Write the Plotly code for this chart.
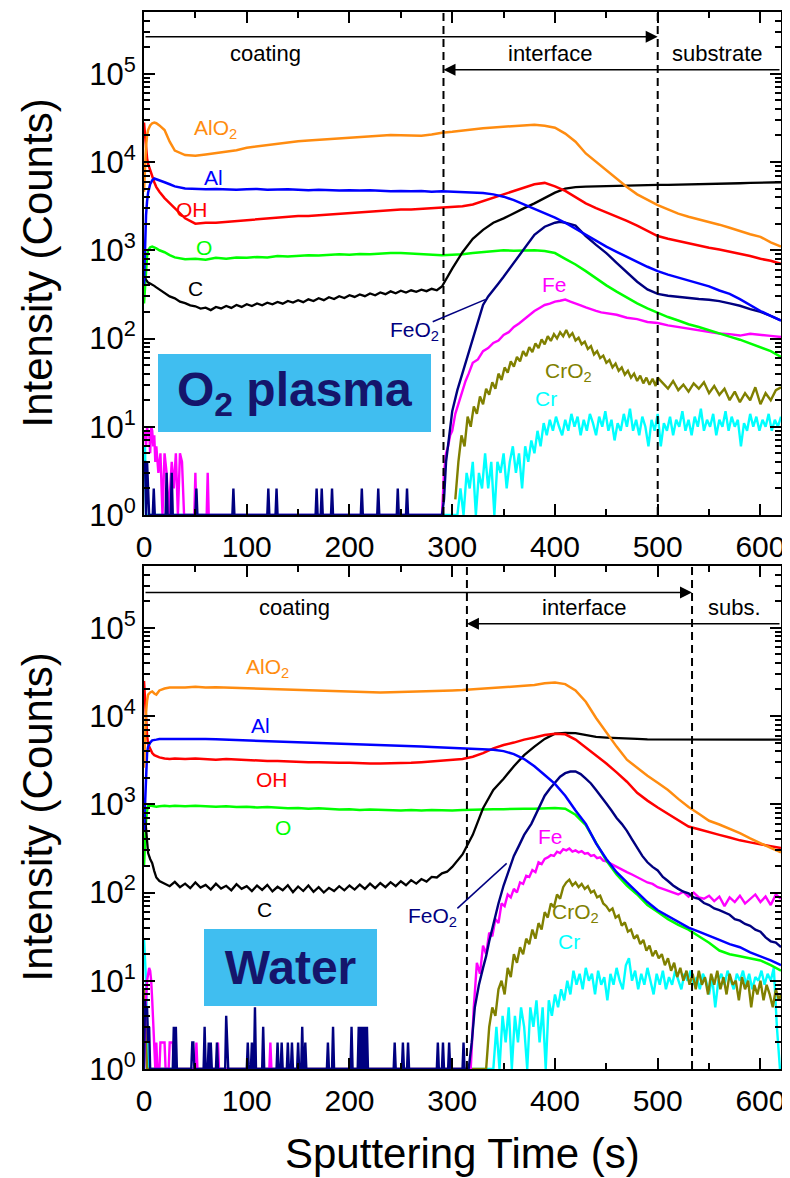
import plotly.graph_objects as go

# ---------------- shared time grid for the smooth, high-count species ----------------
T_GRID = [0, 1, 2, 3, 4, 6, 8, 10, 12, 15, 20, 25] + list(range(30, 621, 10))

# ================= TOP PANEL : O2 plasma =================
TOP_ALO2 = [4600, 9000, 15000, 20000, 23000, 26000, 27500, 28000, 27500, 26000, 23000, 17000,
            13500, 12000, 11800, 12200, 12600, 13000, 13600, 14500, 15000, 15800,
            16200, 16800, 17200, 17500, 17800, 18200, 18600, 19000, 19400, 19700,
            20000, 20300, 20100, 20000, 19800, 20500, 21500, 22000, 22800, 23500,
            24200, 24600, 25000, 25500, 26000, 26500, 25800, 24500, 21000, 17000,
            12500, 10000, 8100, 6400, 5200, 4300, 3700, 3250, 2900, 2600,
            2400, 2250, 2100, 1950, 1800, 1650, 1520, 1420, 1230, 1100]
TOP_AL = [400, 1200, 2500, 3600, 4500, 5600, 6200, 6500, 6400, 6200, 5900, 5600,
          5300, 5000, 4950, 4900, 4950, 4900, 4850, 4900, 4950, 4850,
          4900, 4900, 4850, 4800, 4850, 4800, 4750, 4800, 4750, 4800,
          4700, 4650, 4700, 4650, 4700, 4600, 4650, 4600, 4550, 4550,
          4450, 4300, 4050, 3700, 3300, 2950, 2600, 2350, 2050, 1750,
          1500, 1280, 1100, 960, 850, 740, 650, 580, 530, 490,
          450, 420, 390, 350, 320, 280, 240, 205, 180, 160]
TOP_OH = [28000, 20000, 14000, 11000, 9500, 8000, 6800, 5900, 5200, 4600, 3900, 3400,
          3000, 2300, 2000, 2050, 2050, 2100, 2150, 2200, 2250, 2300,
          2350, 2400, 2450, 2450, 2500, 2550, 2600, 2650, 2700, 2750,
          2800, 2850, 2900, 2900, 2950, 2950, 3000, 3050, 3150, 3300,
          3600, 3950, 4300, 4700, 5100, 5600, 5800, 5300, 4700, 4000,
          3400, 3000, 2700, 2400, 2150, 1900, 1650, 1450, 1350, 1270,
          1200, 1130, 1070, 1020, 970, 920, 860, 800, 760, 700]
TOP_O = [250, 400, 650, 850, 1000, 1080, 1100, 1080, 1050, 1000, 950, 880,
         830, 790, 800, 780, 820, 800, 830, 820, 840, 830,
         860, 850, 870, 880, 870, 890, 900, 890, 910, 900,
         920, 930, 930, 920, 900, 890, 880, 890, 900, 930,
         950, 980, 1000, 990, 1000, 1000, 980, 930, 800, 690,
         580, 480, 400, 340, 290, 250, 220, 195, 175, 160,
         145, 135, 125, 115, 105, 97, 88, 80, 72, 62]
TOP_C_T = [0, 1, 2, 3, 4, 6, 8, 10, 12, 15, 20, 25] + list(range(30, 291, 5)) + list(range(300, 621, 10))
TOP_C = [500, 480, 460, 440, 430, 420, 410, 395, 380, 360, 330, 300,
         285, 262, 252, 238, 232, 218, 224, 210, 228, 219,
         234, 222, 240, 228, 245, 233, 250, 238, 255, 244,
         260, 248, 266, 255, 272, 258, 278, 266, 286, 272,
         294, 280, 302, 288, 310, 296, 316, 302, 324, 309,
         332, 318, 342, 326, 348, 332, 352, 338, 358, 344,
         366, 352, 388,
         620, 950, 1350, 1700, 2050, 2300, 2650, 3000, 3400, 3900, 4500,
         5000, 5200, 5250, 5300, 5300, 5350, 5350, 5400, 5450, 5500, 5500,
         5550, 5600, 5600, 5650, 5700, 5700, 5750, 5800, 5850, 5850, 5900]

TOP_FEO2_T = [0, 1, 2, 3, 4, 5,
              8.5, 9.5, 10.5, 21, 22, 23, 26, 27, 28,
              50, 51, 52, 86, 87, 88, 120, 121, 122, 128, 129, 130,
              167, 168, 169, 172, 173, 174, 182, 183, 184, 211, 212, 213,
              227, 228, 229, 246, 247, 248, 255, 256, 257,
              290, 292, 294, 297, 300,
              305, 310, 315, 320, 325, 330, 335, 340, 345, 350, 355, 360,
              370, 380, 390, 400, 405, 410,
              420, 430, 440, 450, 460, 470, 480, 490, 500, 510, 520,
              530, 540, 550, 560, 570, 580, 590, 600, 610, 620]
TOP_FEO2 = [4, 4, 1, 4, 2, 1,
            1, 2, 1, 1, 3, 1, 1, 3, 1,
            1, 2, 1, 1, 2, 1, 1, 2, 1, 1, 2, 1,
            1, 2, 1, 1, 2, 1, 1, 2, 1, 1, 2, 1,
            1, 2, 1, 1, 2, 1, 1, 2, 1,
            1, 1.5, 4, 8, 15,
            26, 41, 65, 100, 160, 240, 300, 350, 420, 500, 600, 720,
            1050, 1500, 1850, 2050, 2100, 2050,
            1900, 1450, 1150, 930, 720, 560, 440, 360, 320, 305, 295,
            290, 280, 275, 265, 250, 235, 215, 200, 180, 160]

TOP_FE_T = [0, 1, 2, 3, 4, 5, 6, 7, 8, 9, 10, 11, 12,
            14, 16, 18, 20, 22, 24,
            27, 29, 31, 33, 35, 37, 39,
            49, 50, 51, 61, 62, 63,
            290, 292, 294, 296, 298, 300,
            303, 306, 310, 313, 316] + list(range(320, 451, 5)) + list(range(460, 621, 10))
TOP_FE = [7, 9, 6, 10, 8, 9, 5, 10, 9, 6, 8, 4, 6,
          3, 5, 1, 5, 3, 1,
          4, 2, 5, 1, 5, 4, 1,
          1, 3, 1, 1, 3, 1,
          1, 3, 5, 6, 8, 9,
          14, 18, 26, 33, 40,
          53, 58, 72, 78, 89, 95, 110, 118, 135, 148, 165, 182, 205, 222,
          240, 248, 262, 268, 276, 262, 252, 238, 226, 214, 206, 198, 195,
          186, 172, 166, 154, 150, 141, 135, 128, 123, 118, 114, 112, 108, 113, 109, 107, 104]

TOP_CRO2_T = list(range(303, 499, 3)) + list(range(500, 621, 5))
TOP_CRO2 = [1.5, 4, 8, 6, 13, 10, 17, 14, 22, 18,
            27, 23, 32, 27, 40, 34, 47, 41, 55, 48,
            62, 55, 72, 63, 80, 70, 88, 78, 98, 86,
            106, 94, 112, 100, 118, 106, 125, 105, 115, 95,
            102, 86, 92, 76, 82, 66, 72, 60, 64, 53,
            57, 47, 52, 43, 47, 39, 43, 36, 40, 33,
            38, 31, 36, 30, 35, 29,
            36, 31, 27, 33, 26, 30, 25, 31, 27, 32, 24, 29, 23, 27, 20, 25, 19, 24, 20, 28,
            18, 24, 20, 26, 28]

TOP_CR_T = [0, 1, 2, 3] + list(range(305, 621, 3))
TOP_CR = [5, 6, 1, 1,
          1, 2, 1, 3, 2, 4, 1, 3, 2, 5,
          2, 4, 1, 4, 3, 5, 2, 4, 6, 3,
          5, 2, 6, 4, 7, 5,
          9, 6, 11, 8, 12, 9, 13, 10, 8, 12,
          9, 14, 10, 13, 8, 12, 9, 14, 11, 8,
          13, 10, 15, 9, 12, 7, 11, 9, 14, 10,
          16, 9, 12, 8, 13, 10, 6, 12, 9, 14,
          6, 11, 9, 13, 8, 12, 10, 15, 9, 12,
          8, 13, 10, 16, 9, 12, 10, 14, 8, 12,
          10, 15, 9, 13, 10, 12, 6, 11, 9, 14,
          10, 13, 9, 12, 10, 14, 9, 12, 10, 13]

# ================= BOTTOM PANEL : Water =================
BOT_ALO2 = [2600, 6000, 11000, 15000, 17500, 18500, 19000, 18000, 17500, 19500, 20500, 21000,
            21000, 21000, 21500, 21000, 21200, 21000, 21000, 20800, 20600, 20500,
            20200, 20000, 19800, 19700, 19500, 19300, 19000, 18800, 18700, 18600,
            18500, 18600, 18700, 18800, 18900, 19100, 19300, 19500, 19700, 20000,
            20400, 20800, 21200, 21600, 22000, 22500, 23500, 24000, 23000, 19500,
            14500, 9500, 6500, 4500, 3200, 2600, 2100, 1750, 1450, 1150,
            930, 780, 650, 590, 530, 470, 410, 360, 320, 285]
BOT_AL = [500, 1200, 2500, 3800, 4500, 5000, 5300, 5400, 5400, 5500, 5500, 5500,
          5500, 5500, 5600, 5500, 5450, 5400, 5400, 5350, 5300, 5250,
          5200, 5150, 5100, 5050, 5000, 4950, 4900, 4850, 4800, 4750,
          4700, 4650, 4600, 4550, 4500, 4450, 4400, 4350, 4300, 4250,
          4200, 4150, 4000, 3700, 3250, 2700, 2150, 1700, 1250, 850,
          600, 360, 240, 170, 130, 100, 78, 63, 54, 46,
          40, 36, 32, 29, 26, 24, 21, 19, 17, 15]
BOT_OH = [25000, 15000, 9000, 6000, 4800, 4200, 3800, 3600, 3500, 3400, 3300, 3250,
          3300, 3250, 3300, 3250, 3200, 3250, 3200, 3150, 3150, 3100,
          3100, 3050, 3050, 3000, 3000, 2950, 2950, 2950, 2900, 2900,
          2900, 2900, 2900, 2950, 3000, 3050, 3100, 3150, 3250, 3450,
          3800, 4300, 4700, 5000, 5400, 5700, 6100, 6300, 6200, 5400,
          4400, 3600, 2900, 2300, 1800, 1350, 1100, 920, 780, 650,
          560, 520, 480, 450, 420, 390, 370, 350, 335, 320]
BOT_O = [200, 400, 650, 850, 950, 970, 960, 950, 940, 950, 960, 950,
         960, 950, 960, 950, 940, 950, 930, 940, 920, 930,
         910, 900, 910, 890, 900, 880, 870, 880, 860, 870,
         860, 850, 850, 860, 850, 860, 850, 850, 860, 870,
         870, 880, 880, 890, 890, 890, 900, 910, 890, 760,
         580, 360, 230, 160, 120, 95, 72, 60, 50, 43,
         38, 32, 27, 22, 20, 19, 18, 17, 15, 13]
BOT_C_T = [0, 1, 2, 3, 4, 6, 8, 10, 12, 15] + list(range(20, 301, 5)) + list(range(310, 621, 10))
BOT_C = [1000, 700, 450, 320, 280, 240, 215, 175, 148, 135,
         127, 118, 132, 115, 126, 112, 130, 114, 122, 108,
         126, 111, 119, 106, 124, 110, 118, 104, 120, 107,
         122, 103, 116, 106, 121, 101, 117, 104, 120, 102,
         115, 100, 113, 104, 118, 106, 120, 108, 123, 110,
         126, 112, 128, 115, 131, 118, 134, 121, 138, 126,
         142, 133, 150, 148, 165, 172, 195,
         270, 450, 900, 1450, 1950, 2700, 3600, 4500, 5500, 6300,
         6450, 6400, 6100, 5800, 5700, 5600, 5550, 5500, 5450, 5450,
         5400, 5400, 5400, 5400, 5350, 5400, 5350, 5400, 5350, 5400, 5350, 5400]

BOT_FEO2_T = [0, 1, 2, 3, 4, 5, 6,
              28, 29, 30, 31, 32,
              46, 47, 48, 49,
              58, 59, 60,
              62, 63, 64, 65, 66,
              70, 71, 72,
              79, 80, 81, 82,
              100, 101, 102, 104, 105, 106,
              107, 108, 109,
              115, 116, 117,
              129, 130, 131, 133, 134, 135,
              139, 140, 141, 143, 144, 145,
              149, 150, 151,
              153, 154, 155, 156, 157, 158,
              178, 179, 180,
              183, 184, 185,
              201, 202, 203,
              208, 209, 210, 211, 212, 213, 214, 215, 216, 217, 218,
              243, 244, 245,
              251, 252, 253, 256, 257, 258,
              285, 286, 287, 290, 291, 292, 296, 297, 298,
              310, 311, 312,
              316, 319, 322, 326, 330, 333, 336, 340, 345, 350, 355, 360, 365, 370, 377,
              385, 390] + list(range(395, 621, 5))
BOT_FEO2 = [1, 6, 4, 5, 2, 3, 1,
            1, 3, 1, 3, 1,
            1, 2, 2, 1,
            1, 3, 1,
            1, 2, 1, 2, 1,
            1, 2, 1,
            1, 4, 2, 1,
            1, 2, 1, 1, 2, 1,
            1, 5, 1,
            1, 3, 1,
            1, 2, 1, 1, 2, 1,
            1, 2, 1, 1, 2, 1,
            1, 2, 1,
            1, 3, 1, 1, 2, 1,
            1, 2, 1,
            1, 3, 1,
            1, 3, 1,
            1, 3, 1, 3, 1, 3, 1, 3, 1, 3, 1,
            1, 2, 1,
            1, 2, 1, 1, 2, 1,
            1, 2, 1, 1, 2, 1, 1, 2, 1,
            1, 2, 1,
            1, 2, 5, 9, 14, 19, 28, 45, 75, 120, 178, 260, 340, 450, 600,
            950, 1250,
            1500, 1750, 2050, 2250, 2350, 2350, 2200, 1950, 1720, 1450,
            1200, 1020, 850, 700, 600, 500, 400, 320, 260, 220,
            195, 178, 150, 135, 120, 110, 102, 98, 88, 85,
            76, 72, 66, 63, 60, 56, 50, 48, 44, 42,
            38, 36, 31, 28, 27, 24]

BOT_FE_T = [0, 1, 2, 3, 4, 5, 6, 7, 8, 9, 10, 11, 12, 13,
            15, 16, 20, 21, 24, 25, 28, 29,
            50, 51, 52, 71, 72, 73, 122, 123, 124] + list(range(318, 451, 3)) + list(range(455, 621, 5))
BOT_FE = [1, 3, 6, 10, 13, 14, 13, 10, 6, 3, 2, 1, 2, 1,
          1, 2, 2, 1, 1, 2, 2, 1,
          1, 2, 1, 1, 2, 1, 1, 2, 1,
          1, 5, 16, 12, 25, 20, 35, 32, 50, 45,
          75, 70, 95, 88, 110, 100, 130, 125, 155, 150,
          180, 170, 220, 210, 240, 250, 265, 260, 290, 280,
          310, 300, 315, 290, 300, 285, 295, 275, 280, 260,
          265, 245, 250, 230, 225,
          210, 195, 180, 170, 160, 150, 140, 130, 125, 115,
          110, 105, 100, 95, 102, 90, 100, 88, 85, 92,
          80, 90, 70, 88, 78, 92, 75, 85, 95, 78,
          90, 72, 95, 85]

BOT_CRO2_T = [0, 1, 2, 3] + list(range(333, 619, 3)) + [620]
BOT_CRO2 = [8, 6, 2, 1,
            1, 3, 5, 4, 8, 10, 7, 14, 11, 20,
            16, 24, 20, 30, 26, 38, 30, 45, 38, 60,
            52, 75, 68, 95, 85, 115, 130, 140, 120, 130,
            115, 125, 110, 118, 100, 105, 88, 92, 75, 70,
            62, 66, 52, 55, 42, 46, 36, 38, 30, 33,
            26, 29, 22, 25, 19, 22, 18, 20, 15, 18,
            13, 16, 11, 14, 10, 13, 9, 12, 8, 13,
            9, 11, 7, 12, 9, 13, 8, 11, 7, 12,
            9, 10, 6, 11, 8, 10, 5, 9, 7, 10,
            6, 9, 7, 5, 8, 6,
            7]

BOT_CR_T = [0, 1, 2, 3, 4] + list(range(340, 620, 3))
BOT_CR = [30, 20, 10, 3, 1,
          1, 3, 1, 4, 2, 5, 1, 4, 2, 5,
          3, 1, 5, 3, 6, 2, 5, 1, 6, 4,
          7, 5, 8, 6, 10, 7, 13, 9, 12, 8,
          14, 10, 12, 7, 13, 9, 11, 6, 12, 9,
          14, 10, 8, 15, 18, 10, 13, 8, 12, 9,
          14, 10, 7, 12, 9, 13, 8, 11, 9, 13,
          10, 8, 12, 10, 13, 9, 11, 8, 12, 10,
          7, 11, 5, 10, 12, 9, 13, 10, 8, 12,
          10, 13, 9, 12, 8, 11, 10, 13, 9, 12,
          10, 14, 3, 1]

SPECIES = ["AlO2", "Al", "OH", "O", "C", "FeO2", "Fe", "CrO2", "Cr"]
COLORS = {"AlO2": "#FF8C10", "Al": "#0000FF", "OH": "#FF0000", "O": "#00FF00", "C": "#000000",
          "FeO2": "#000080", "Fe": "#FF00FF", "CrO2": "#808000", "Cr": "#00FFFF"}
LABELS = {"AlO2": "AlO<sub>2</sub>", "Al": "Al", "OH": "OH", "O": "O", "C": "C",
          "FeO2": "FeO<sub>2</sub>", "Fe": "Fe", "CrO2": "CrO<sub>2</sub>", "Cr": "Cr"}

TOP_DATA = {"AlO2": (T_GRID, TOP_ALO2), "Al": (T_GRID, TOP_AL), "OH": (T_GRID, TOP_OH),
            "O": (T_GRID, TOP_O), "C": (TOP_C_T, TOP_C), "FeO2": (TOP_FEO2_T, TOP_FEO2),
            "Fe": (TOP_FE_T, TOP_FE), "CrO2": (TOP_CRO2_T, TOP_CRO2), "Cr": (TOP_CR_T, TOP_CR)}
BOT_DATA = {"AlO2": (T_GRID, BOT_ALO2), "Al": (T_GRID, BOT_AL), "OH": (T_GRID, BOT_OH),
            "O": (T_GRID, BOT_O), "C": (BOT_C_T, BOT_C), "FeO2": (BOT_FEO2_T, BOT_FEO2),
            "Fe": (BOT_FE_T, BOT_FE), "CrO2": (BOT_CRO2_T, BOT_CRO2), "Cr": (BOT_CR_T, BOT_CR)}

# label positions (time, log10 intensity)
TOP_LABEL_POS = {"AlO2": (70, 4.37), "Al": (68, 3.82), "OH": (47, 3.46), "O": (58, 3.03),
                 "C": (50, 2.57), "FeO2": (263, 2.09), "Fe": (400, 2.61), "CrO2": (413, 1.62),
                 "Cr": (391, 1.315)}
BOT_LABEL_POS = {"AlO2": (120, 4.54), "Al": (113, 3.89), "OH": (125, 3.28), "O": (135, 2.74),
                 "C": (117, 1.81), "FeO2": (281, 1.72), "Fe": (396, 2.64), "CrO2": (420, 1.77),
                 "Cr": (414, 1.45)}
TOP_LEADER = ((281, 2.19), (332, 2.44))
BOT_LEADER = ((305, 1.82), (353, 2.33))

# region markers (boundary times)
TOP_BOUNDS = (291.5, 500)
BOT_BOUNDS = (314.3, 533.4)
TOP_REGIONS = [("coating", 118), ("interface", 395.5), ("substrate", 558)]
BOT_REGIONS = [("coating", 146), ("interface", 428), ("subs.", 575)]

for dct in (TOP_DATA, BOT_DATA):
    for k, (xs, ys) in dct.items():
        assert len(xs) == len(ys), (k, len(xs), len(ys))

FONT = "Liberation Sans, Arial, sans-serif"
fig = go.Figure()

DRAW_ORDER = ["Cr", "CrO2", "Fe", "O", "FeO2", "C", "OH", "Al", "AlO2"]
WIDTH = {"Cr": 2.4, "CrO2": 2.4, "Fe": 2.4, "FeO2": 2.4, "C": 2.3}
for data, xa, ya in ((TOP_DATA, "x", "y"), (BOT_DATA, "x2", "y2")):
    for sp in DRAW_ORDER:
        xs, ys = data[sp]
        fig.add_trace(go.Scatter(x=xs, y=ys, mode="lines", name=sp, showlegend=False,
                                 line=dict(color=COLORS[sp], width=WIDTH.get(sp, 2.5)),
                                 xaxis=xa, yaxis=ya, hoverinfo="skip"))

# the page body adds an 8 px offset, so the figure is drawn 8 px smaller in each direction
OFF = 8
W, H = 790 - OFF, 1178 - OFF
def px_x(v):
    return (v - OFF) / W
def px_y(v):
    return (H - (v - OFF)) / H

XDOM = [px_x(144), px_x(781)]
TOP_DOM = [px_y(515), px_y(12)]
BOT_DOM = [px_y(1069), px_y(566)]
YMAX = 5.70

major_y = [10 ** k for k in range(0, 6)]
major_txt = ["10<sup>%d</sup>" % k for k in range(0, 6)]
minor_y = [m * 10 ** k for k in range(0, 6) for m in range(2, 10) if m * 10 ** k < 10 ** YMAX]

def xax(anchor):
    return dict(domain=XDOM, anchor=anchor, range=[0, 620], tick0=0, dtick=100, automargin=False,
                ticks="inside", ticklen=11, tickwidth=1.5, tickcolor="black",
                minor=dict(ticks="inside", dtick=50, tick0=0, ticklen=6, tickwidth=1.5, tickcolor="black"),
                showline=True, linewidth=2, linecolor="black", mirror="allticks",
                showgrid=False, zeroline=False,
                tickfont=dict(family=FONT, size=30, color="black"), ticklabelstandoff=4)

def yax(anchor, dom):
    return dict(domain=dom, anchor=anchor, type="log", range=[0, YMAX], automargin=False,
                tickmode="array", tickvals=major_y, ticktext=major_txt,
                ticks="inside", ticklen=11, tickwidth=1.5, tickcolor="black",
                minor=dict(ticks="inside", tickmode="array", tickvals=minor_y, ticklen=6,
                           tickwidth=1.5, tickcolor="black"),
                showline=True, linewidth=2, linecolor="black", mirror="allticks",
                showgrid=False, zeroline=False,
                tickfont=dict(family=FONT, size=31, color="black"))

annotations = []
shapes = []

def panel(xr, yr, bounds, regions, label_pos, leader, box_text, box_x, box_y, box_w, box_h, arrow_y):
    b0, b1 = bounds
    for b in bounds:
        shapes.append(dict(type="line", xref=xr, yref=yr + " domain", x0=b, x1=b, y0=0, y1=1,
                           line=dict(color="black", width=2, dash="8px,5px")))
    annotations.append(dict(x=b1, y=arrow_y, ax=0, ay=arrow_y, xref=xr, yref=yr, axref=xr, ayref=yr,
                            text="", showarrow=True, arrowhead=2, arrowsize=1.5, arrowwidth=1.6,
                            arrowcolor="black", standoff=0, startstandoff=0))
    annotations.append(dict(x=b0, y=5.045, ax=620, ay=5.045, xref=xr, yref=yr, axref=xr, ayref=yr,
                            text="", showarrow=True, arrowhead=2, arrowsize=1.5, arrowwidth=1.6,
                            arrowcolor="black", standoff=0, startstandoff=0))
    for txt, tx in regions:
        annotations.append(dict(x=tx, y=5.235, xref=xr, yref=yr, text=txt, showarrow=False,
                                font=dict(family=FONT, size=22, color="black")))
    for sp in SPECIES:
        lx, ly = label_pos[sp]
        annotations.append(dict(x=lx, y=ly, xref=xr, yref=yr, text=LABELS[sp], showarrow=False,
                                font=dict(family=FONT, size=21, color=COLORS[sp])))
    (lx0, ly0), (lx1, ly1) = leader
    shapes.append(dict(type="line", xref=xr, yref=yr, x0=lx0, x1=lx1, y0=10 ** ly0, y1=10 ** ly1,
                       line=dict(color=COLORS["FeO2"], width=1.5)))
    annotations.append(dict(x=box_x, y=box_y, xref=xr, yref=yr, text=box_text, showarrow=False,
                            width=box_w, height=box_h, bgcolor="#40BEF0", borderpad=0, borderwidth=0,
                            align="center", valign="middle",
                            font=dict(family=FONT, size=48, color="#15156B")))

panel("x", "y", TOP_BOUNDS, TOP_REGIONS, TOP_LABEL_POS, TOP_LEADER,
      "<b>O<sub>2</sub> plasma</b>", 146.5, 1.382, 273, 78, 5.42)
panel("x2", "y2", BOT_BOUNDS, BOT_REGIONS, BOT_LABEL_POS, BOT_LEADER,
      "<b>Water</b>", 142.6, 1.148, 173, 77, 5.40)

for dom in (TOP_DOM, BOT_DOM):
    annotations.append(dict(x=px_x(37), y=(dom[0] + dom[1]) / 2, xref="paper", yref="paper",
                            text="Intensity (Counts)", textangle=-90, showarrow=False,
                            xanchor="center", yanchor="middle",
                            font=dict(family=FONT, size=42, color="black")))
annotations.append(dict(x=(XDOM[0] + XDOM[1]) / 2, y=px_y(1153), xref="paper", yref="paper",
                        text="Sputtering Time (s)", showarrow=False, xanchor="center", yanchor="middle",
                        font=dict(family=FONT, size=42, color="black")))

fig.update_layout(
    width=W, height=H, margin=dict(l=0, r=0, t=0, b=0, autoexpand=False),
    paper_bgcolor="white", plot_bgcolor="white",
    xaxis=xax("y"), yaxis=yax("x", TOP_DOM),
    xaxis2=xax("y2"), yaxis2=yax("x2", BOT_DOM),
    annotations=annotations, shapes=shapes, showlegend=False,
    font=dict(family=FONT, color="black"),
)

fig.write_html("out.html")
